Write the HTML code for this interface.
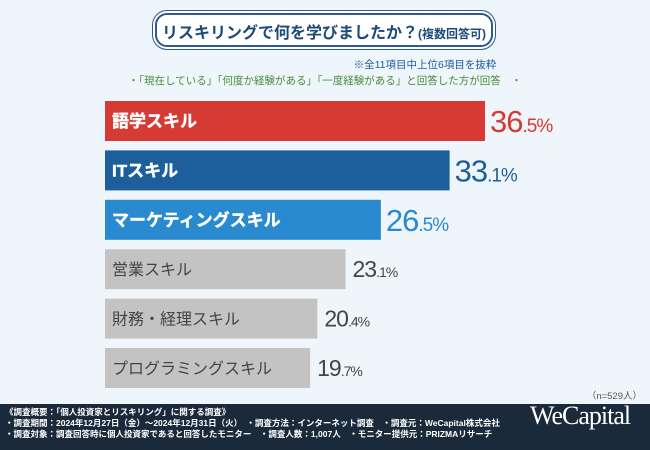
<!DOCTYPE html>
<html><head><meta charset="utf-8"><style>
body{margin:0;width:650px;height:450px;overflow:hidden;background:#eef6fb;font-family:"Liberation Sans","Noto Sans CJK JP",sans-serif;position:relative}
.abs{position:absolute}
</style></head><body>
<div class="abs" style="left:155px;top:13px;width:334px;height:30px;border:2px solid #2d5a8a;border-radius:12px;background:#fff;box-shadow:0 0 0 2px #fff,0 0 0 3px #2d5a8a"></div>
<div class="abs" style="left:155px;top:19px;width:338px;text-align:center;color:#1e4a7a;font-weight:bold;font-size:16px">リスキリングで何を学びましたか？<span style="font-size:12px">(複数回答可)</span></div>
<div class="abs" style="left:320px;top:57px;width:210px;text-align:center;color:#1e5aa0;font-size:10.5px">※全11項目中上位6項目を抜粋</div>
<div class="abs" style="left:0;top:73px;width:650px;text-align:center;color:#4a8a3a;font-size:10.5px">・「現在している」「何度か経験がある」「一度経験がある」と回答した方が回答　・</div>
<svg class="abs" style="left:0;top:0" width="650" height="450"></svg>
<div class="abs" style="right:8px;top:388px;color:#555;font-size:9.5px">（n=529人）</div>
<div class="abs" style="left:0;top:404px;width:650px;height:46px;background:#1b2a3b;color:#fff;font-size:8.5px;font-weight:bold;line-height:11px">
<div style="position:absolute;left:5px;top:3px;white-space:nowrap">《調査概要：「個人投資家とリスキリング」に関する調査》<br>・調査期間：2024年12月27日（金）～2024年12月31日（火）　・調査方法：インターネット調査　・調査元：WeCapital株式会社<br>・調査対象：調査回答時に個人投資家であると回答したモニター　・調査人数：1,007人　・モニター提供元：PRIZMAリサーチ</div>
<div style="position:absolute;left:530px;top:6px;font-family:'Liberation Serif',serif;font-size:26px;font-weight:normal;letter-spacing:-1px">WeCapital</div>
</div>
<script>
const categories=["語学スキル","ITスキル","マーケティングスキル","営業スキル","財務・経理スキル","プログラミングスキル"];
const values=[36.5,33.1,26.5,23.1,20.4,19.7];
const colors=["#d63a34","#1d5f9d","#2a8ad0","#c3c3c3","#c3c3c3","#c3c3c3"];
const ns="http://www.w3.org/2000/svg";
const svg=document.querySelector('svg');
const x0=105, scale=380/36.5;
const xs=v=>v*scale;
const yTop=i=>101+i*49.4;
const bh=40;
categories.forEach((c,i)=>{
 const r=document.createElementNS(ns,'rect');
 r.setAttribute('x',x0);r.setAttribute('y',yTop(i));r.setAttribute('width',xs(values[i]));r.setAttribute('height',bh);r.setAttribute('fill',colors[i]);
 
 
 svg.appendChild(r);
 const hi=i<3;
 const t=document.createElementNS(ns,'text');
 t.setAttribute('x',x0+7);t.setAttribute('y',yTop(i)+bh/2+6);
 t.setAttribute('font-size',hi?17:16);t.setAttribute('font-weight',hi?'bold':'normal');
 t.setAttribute('fill',hi?'#fff':'#444');
 if(hi){t.setAttribute('stroke','#fff');t.setAttribute('stroke-width','0.4');}
 t.textContent=c;
 
 
 svg.appendChild(t);
 const v=document.createElementNS(ns,'text');
 const s=values[i].toFixed(1).split('.');
 v.setAttribute('x',x0+xs(values[i])+(hi?5:7));v.setAttribute('y',yTop(i)+bh/2+(hi?11:8));
 v.setAttribute('fill',hi?colors[i]:'#444');
 v.setAttribute('font-size',hi?31:23);v.setAttribute('letter-spacing','-1');
 v.innerHTML=s[0]+'<tspan font-size="'+(hi?19:14)+'">.'+s[1]+'%</tspan>';
 
 
 svg.appendChild(v);
});
</script>
</body></html>
